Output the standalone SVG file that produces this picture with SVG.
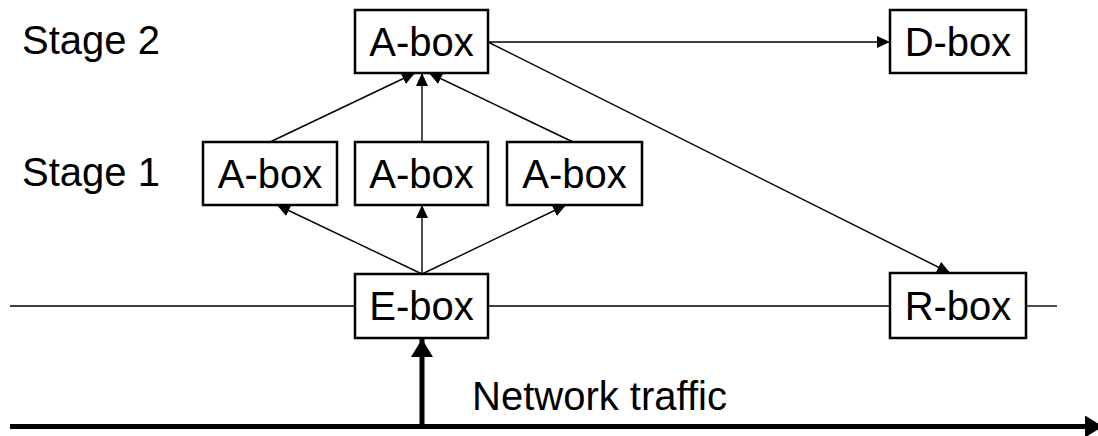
<svg xmlns="http://www.w3.org/2000/svg" width="1098" height="436" viewBox="0 0 1098 436">
<style>
.box{fill:#fff;stroke:#000;stroke-width:2.5}
.lbl{font-family:"Liberation Sans",Arial,sans-serif;font-size:40px;fill:#000}
.mid{text-anchor:middle}
.thin{stroke:#000;stroke-width:1.4;fill:none}
.thick{stroke:#000;stroke-width:5;fill:none}
</style>
<defs>
<marker id="ah" markerUnits="userSpaceOnUse" markerWidth="13" markerHeight="12" viewBox="0 0 13 12" refX="13" refY="6" orient="auto">
<path d="M0,0 L13,6 L0,12 z" fill="#000"/>
</marker>
<marker id="ahb" markerUnits="userSpaceOnUse" markerWidth="18" markerHeight="22" viewBox="0 0 18 22" refX="18" refY="11" orient="auto">
<path d="M0,0 L18,11 L0,22 z" fill="#000"/>
</marker>
</defs>
<g id="labels">
<text class="lbl" x="22" y="54">Stage 2</text>
<text class="lbl" x="22" y="186">Stage 1</text>
<text class="lbl" x="472" y="410">Network traffic</text>
</g>
<g id="connectors">
<line class="thin" x1="10" y1="306" x2="355" y2="306"/>
<line class="thin" x1="488" y1="306" x2="890" y2="306"/>
<line class="thin" x1="1026" y1="306" x2="1057" y2="306"/>
<line class="thin" x1="488" y1="42" x2="890" y2="42" marker-end="url(#ah)"/>
<line class="thin" x1="488" y1="42" x2="950" y2="273" marker-end="url(#ah)"/>
<line class="thin" x1="270" y1="142" x2="415" y2="73" marker-end="url(#ah)"/>
<line class="thin" x1="422" y1="142" x2="422" y2="73" marker-end="url(#ah)"/>
<line class="thin" x1="573" y1="142" x2="429" y2="73" marker-end="url(#ah)"/>
<line class="thin" x1="422" y1="274" x2="277" y2="205" marker-end="url(#ah)"/>
<line class="thin" x1="422" y1="274" x2="422" y2="205" marker-end="url(#ah)"/>
<line class="thin" x1="422" y1="274" x2="566" y2="205" marker-end="url(#ah)"/>
<line class="thick" x1="422" y1="427" x2="422" y2="339" marker-end="url(#ahb)"/>
<line class="thick" x1="10" y1="426.5" x2="1103" y2="426.5" marker-end="url(#ahb)"/>
</g>
<g id="a2">
<rect class="box" x="355" y="10" width="133" height="63"/>
<text class="lbl mid" x="421.5" y="56">A-box</text>
</g>
<g id="d">
<rect class="box" x="890" y="10" width="136" height="63"/>
<text class="lbl mid" x="958" y="56">D-box</text>
</g>
<g id="a1l">
<rect class="box" x="203" y="142" width="134" height="63"/>
<text class="lbl mid" x="270" y="188">A-box</text>
</g>
<g id="a1m">
<rect class="box" x="355" y="142" width="133" height="63"/>
<text class="lbl mid" x="421.5" y="188">A-box</text>
</g>
<g id="a1r">
<rect class="box" x="507" y="142" width="135" height="63"/>
<text class="lbl mid" x="574.5" y="188">A-box</text>
</g>
<g id="e">
<rect class="box" x="355" y="274" width="133" height="64"/>
<text class="lbl mid" x="421.5" y="320">E-box</text>
</g>
<g id="r">
<rect class="box" x="890" y="273" width="136" height="65"/>
<text class="lbl mid" x="958" y="320">R-box</text>
</g>
</svg>
